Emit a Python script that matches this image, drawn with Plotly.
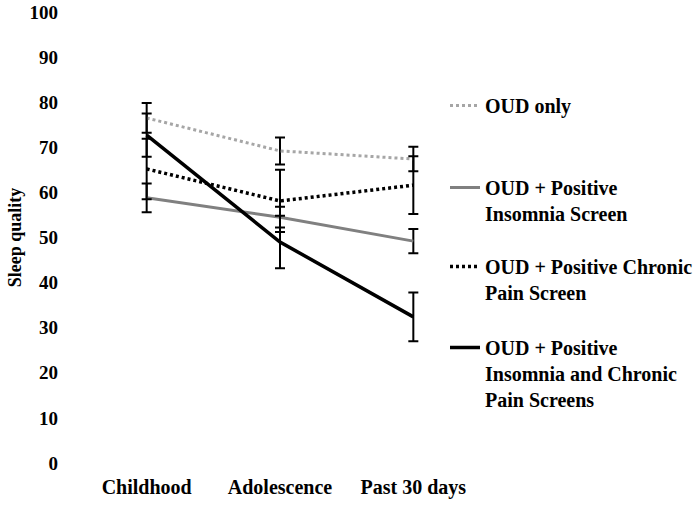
import plotly.graph_objects as go

categories = ["Childhood", "Adolescence", "Past 30 days"]

oud_only = [76.5, 69.2, 67.4]
oud_only_err = [3.3, 3.0, 2.7]

insomnia = [58.8, 54.5, 49.2]
insomnia_err = [3.2, 2.3, 2.7]

chronic = [65.2, 58.1, 61.6]
chronic_err = [6.7, 6.9, 6.4]

both = [72.7, 49.0, 32.4]
both_err = [4.8, 5.8, 5.4]

y_ticks = [0, 10, 20, 30, 40, 50, 60, 70, 80, 90, 100]

names = [
    "OUD only",
    "OUD + Positive<br>Insomnia Screen",
    "OUD + Positive Chronic<br>Pain Screen",
    "OUD + Positive<br>Insomnia and Chronic<br>Pain Screens",
]

FONT = "Liberation Serif, Times New Roman, serif"
styles = [
    dict(color="#a6a6a6", width=3, dash="3px,3px"),
    dict(color="#808080", width=3, dash="solid"),
    dict(color="#000000", width=3.5, dash="3px,3px"),
    dict(color="#000000", width=3.5, dash="solid"),
]
series = [(oud_only, oud_only_err), (insomnia, insomnia_err), (chronic, chronic_err), (both, both_err)]
legend_ids = ["legend", "legend2", "legend3", "legend4"]

fig = go.Figure()
for (vals, errs), name, st, lid in zip(series, names, styles, legend_ids):
    fig.add_trace(go.Scatter(
        x=categories, y=vals, name=name, mode="lines",
        line=st,
        error_y=dict(type="data", array=errs, visible=True, color="#000000", thickness=2, width=5),
        legend=lid,
    ))

plot_left, plot_top, plot_bot = 80, 12, 463
legend_y_px = [86, 168, 247, 328]
layout_legends = {}
for lid, ypx in zip(legend_ids, legend_y_px):
    yp = (plot_bot - ypx) / (plot_bot - plot_top)
    layout_legends[lid] = dict(
        font=dict(family=FONT, size=20, color="#000000", weight="bold"),
        bgcolor="rgba(0,0,0,0)", borderwidth=0, valign="top",
        xanchor="left", yanchor="top", x=(445 - 80) / 400, y=yp)

fig.update_layout(
    width=700, height=505,
    margin=dict(l=plot_left, r=700 - plot_left - 400, t=plot_top, b=505 - plot_bot, autoexpand=False),
    paper_bgcolor="white", plot_bgcolor="white",
    showlegend=True,
    xaxis=dict(
        type="category", range=[-0.5, 2.5], showgrid=False, zeroline=False,
        showline=False, ticks="", ticklabelstandoff=10, automargin=False,
        tickfont=dict(family=FONT, size=20, color="#000000", weight="bold"),
    ),
    yaxis=dict(
        range=[0, 100], tickvals=y_ticks, showgrid=False, zeroline=False,
        showline=False, ticks="", ticklabelstandoff=21, automargin=False,
        tickfont=dict(family=FONT, size=19, color="#000000", weight="bold"),
        title=dict(text="Sleep quality", standoff=3,
                   font=dict(family=FONT, size=18, color="#000000", weight="bold")),
    ),
    **layout_legends,
)

fig.write_html("out.html", config={"displayModeBar": False},
               post_script="document.body.style.margin='0px';")
